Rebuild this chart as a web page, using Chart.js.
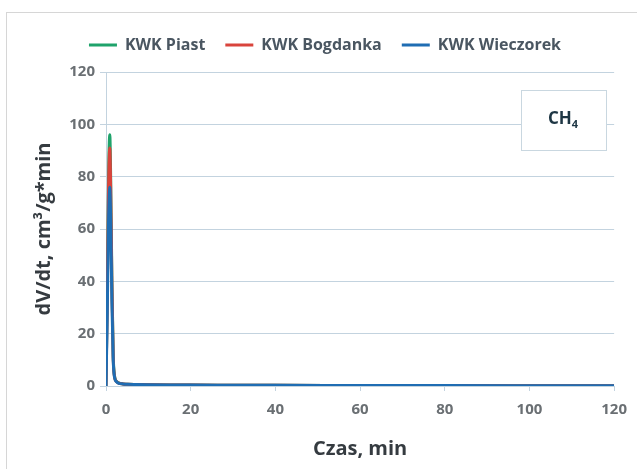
<!DOCTYPE html>
<html>
<head>
<meta charset="utf-8">
<script src="https://cdn.jsdelivr.net/npm/chart.js@4"></script>
<style>
  html, body { margin: 0; padding: 0; background: #fff; }
  #wrap { position: relative; width: 637px; height: 469px; overflow: hidden; }
  #frame { position: absolute; left: 6px; top: 12px; width: 700px; height: 600px; border: 1px solid #d6d6d6; box-sizing: border-box; }
  canvas { position: absolute; left: 0; top: 0; }
</style>
</head>
<body>
<div id="wrap">
  <div id="frame"></div>
  <canvas id="chart" width="637" height="469"></canvas>
</div>
<script>
// --- DATA ---
const timeMin   = [0, 0.3, 0.6, 0.9, 1.1, 1.4, 1.7, 2.0, 2.5, 3.0, 4.0, 5.0, 7.0, 10, 15, 20, 30, 40, 60, 80, 100, 120];
const piast     = [0, 35, 80, 96, 80, 40, 12, 4.0, 1.8, 1.2, 0.8, 0.7, 0.6, 0.5, 0.4, 0.35, 0.3, 0.25, 0.2, 0.15, 0.12, 0.1];
const bogdanka  = [0, 33, 76, 91, 76, 38, 11, 3.7, 1.7, 1.1, 0.8, 0.7, 0.6, 0.5, 0.4, 0.35, 0.3, 0.25, 0.2, 0.15, 0.12, 0.1];
const wieczorek = [0, 28, 63, 76, 64, 32, 10, 3.4, 1.6, 1.0, 0.8, 0.7, 0.6, 0.5, 0.4, 0.35, 0.3, 0.25, 0.2, 0.15, 0.12, 0.1];
const seriesNames = ['KWK Piast', 'KWK Bogdanka', 'KWK Wieczorek'];
const seriesColors = ['#1fa36b', '#d9443c', '#1f6db3'];
const gasLabel = 'CH';
const gasSub = '4';

const gridColor = '#c3d3df';
const tickColor = '#6a6f73';
const titleColor = '#353b40';
const fontFamily = '"Open Sans"';

function points(ys) {
    return timeMin.map((t, i) => ({ x: t, y: ys[i] }));
}

// CH4 label box in the upper right corner
const gasBox = {
    id: 'gasBox',
    afterDraw(chart) {
        const ctx = chart.ctx;
        ctx.save();
        ctx.fillStyle = '#ffffff';
        ctx.fillRect(521, 90, 85, 60);
        ctx.strokeStyle = '#c9d7e0';
        ctx.lineWidth = 1;
        ctx.strokeRect(521.5, 90.5, 85, 60);
        ctx.fillStyle = '#1e3644';
        ctx.textBaseline = 'middle';
        ctx.textAlign = 'left';
        ctx.font = 'bold 17px ' + fontFamily;
        const w = ctx.measureText(gasLabel).width;
        ctx.font = 'bold 11px ' + fontFamily;
        const ws = ctx.measureText(gasSub).width;
        const x0 = 563 - (w + ws) / 2;
        ctx.font = 'bold 17px ' + fontFamily;
        ctx.fillText(gasLabel, x0, 119);
        ctx.font = 'bold 11px ' + fontFamily;
        ctx.fillText(gasSub, x0 + w, 125);
        ctx.restore();
    }
};

// fixed legend height so the plot area starts where the reference does,
// and legend nudged right to sit over the plot like in the original
const legendHeight = {
    id: 'legendHeight',
    beforeLayout(chart) {
        const lg = chart.legend;
        if (lg && !lg._patched) {
            const fit = lg.fit;
            lg.fit = function () { fit.call(this); this.height = 55; };
            lg._patched = true;
        }
    },
    afterLayout(chart) {
        const lg = chart.legend;
        if (lg) { lg.left += 16; lg.right += 16; }
    }
};

const ctx = document.getElementById('chart').getContext('2d');
const chart = new Chart(ctx, {
    type: 'line',
    data: {
        datasets: [piast, bogdanka, wieczorek].map((ys, i) => ({
            label: seriesNames[i],
            data: points(ys),
            borderColor: seriesColors[i],
            backgroundColor: seriesColors[i],
            borderWidth: 3,
            pointRadius: 0,
            cubicInterpolationMode: 'monotone',
            fill: false,
            order: 3 - i
        }))
    },
    options: {
        responsive: false,
        animation: false,
        layout: { padding: { top: 17, right: 19, left: 0, bottom: 0 } },
        plugins: {
            legend: {
                position: 'top',
                reverse: true,
                labels: {
                    usePointStyle: true,
                    pointStyle: 'line',
                    pointStyleWidth: 28,
                    padding: 20,
                    color: '#4a5661',
                    font: { family: fontFamily, size: 16, weight: 'bold' }
                }
            },
            tooltip: { enabled: false }
        },
        scales: {
            x: {
                type: 'linear',
                min: 0, max: 120,
                ticks: { stepSize: 20, color: tickColor, padding: 10, font: { family: fontFamily, size: 15, weight: 'bold' } },
                grid: { drawOnChartArea: false, color: gridColor, tickLength: 5 },
                border: { color: gridColor },
                title: { display: true, text: 'Czas, min', color: titleColor, padding: { top: 0, bottom: 8 }, font: { family: fontFamily, size: 20, weight: 'bold' } },
                afterFit: s => { s.height = 83; }
            },
            y: {
                min: 0, max: 120,
                ticks: { stepSize: 20, color: tickColor, padding: 5, font: { family: fontFamily, size: 15, weight: 'bold' } },
                grid: { color: gridColor, tickLength: 6 },
                border: { color: gridColor },
                title: { display: true, text: 'dV/dt, cm³/g*min', color: titleColor, padding: { top: 32, bottom: 0 }, font: { family: fontFamily, size: 20, weight: 'bold' } },
                afterFit: s => { s.width = 106; }
            }
        }
    },
    plugins: [legendHeight, gasBox]
});
</script>
</body>
</html>
